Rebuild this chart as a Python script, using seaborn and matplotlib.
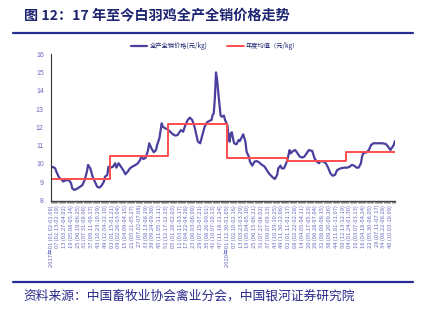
import matplotlib
matplotlib.use("Agg")
import matplotlib.pyplot as plt
from matplotlib.lines import Line2D
from matplotlib.ticker import MultipleLocator
import seaborn as sns
import pandas as pd

# ---------------- data ----------------
price_weeks = [0, 2, 4, 5, 7, 8, 10, 11, 13, 16, 18, 19, 21, 23, 26, 28, 30, 32, 33, 35,
               37, 39, 41, 43, 45, 47, 48, 50, 51, 53, 55, 57, 58, 60, 62, 64, 66, 68, 70, 72,
               75, 77, 79, 80, 82, 84, 86, 87, 89, 91, 93, 94, 96, 98, 99, 101, 103, 106, 108, 110,
               112, 115, 117, 119, 121, 123, 125, 127, 129, 130, 132, 134, 136, 138, 140, 142, 143, 144, 145, 146,
               147, 148, 150, 151, 153, 154, 156, 157, 158, 159, 160, 161, 162, 164, 166, 167, 169, 170, 172, 173,
               175, 176, 178, 180, 182, 184, 186, 189, 192, 194, 197, 198, 200, 201, 203, 204, 206, 208, 209, 211,
               212, 214, 216, 218, 220, 222, 224, 226, 228, 231, 233, 235, 237, 238, 241, 243, 245, 247, 249, 251,
               253, 256, 259, 262, 264, 266, 268, 270, 272, 274, 275, 276, 279, 281, 283, 285, 288, 293, 296, 298,
               300, 301, 303, 304]
price_values = [9.80, 9.84, 9.76, 9.58, 9.31, 9.22, 9.13, 9.04, 9.10, 9.13, 8.95, 8.67, 8.58, 8.64, 8.76, 8.85, 9.13, 9.58, 9.95, 9.76,
                9.31, 9.04, 8.76, 8.71, 8.82, 9.04, 9.31, 9.40, 9.85, 9.80, 9.85, 10.04, 9.80, 10.04, 9.85, 9.67, 9.44, 9.58, 9.76, 9.85,
                9.95, 10.04, 10.22, 10.40, 10.27, 10.35, 10.76, 11.13, 10.85, 10.64, 10.76, 11.04, 11.40, 12.22, 12.04, 11.95, 11.90, 11.73, 11.62, 11.55,
                11.58, 11.85, 11.76, 12.13, 12.40, 12.53, 12.40, 12.04, 11.49, 11.22, 11.13, 11.58, 12.04, 12.27, 12.35, 12.40, 12.67, 12.76, 13.60, 15.00,
                14.60, 13.90, 12.67, 12.58, 12.64, 12.40, 12.13, 11.58, 11.22, 11.67, 11.73, 11.40, 11.13, 11.07, 11.31, 11.25, 11.49, 11.62, 11.22, 10.67,
                10.40, 10.13, 9.91, 10.13, 10.16, 10.09, 9.98, 9.85, 9.55, 9.40, 9.22, 9.18, 9.40, 9.76, 9.91, 9.76, 9.76, 10.04, 10.22, 10.76,
                10.58, 10.71, 10.76, 10.58, 10.40, 10.35, 10.40, 10.58, 10.76, 10.71, 10.31, 10.13, 10.04, 10.16, 10.13, 10.04, 9.80, 9.49, 9.36, 9.40,
                9.67, 9.76, 9.80, 9.80, 9.85, 9.95, 9.91, 9.80, 9.80, 10.04, 10.40, 10.58, 10.64, 10.76, 11.04, 11.13, 11.13, 11.13, 11.09, 10.95,
                10.76, 10.85, 11.04, 11.25]

year_start_weeks = [0, 52, 104, 156, 209, 261, 304]
year_avg_values = [9.18, 10.45, 12.20, 10.31, 10.16, 10.64, 10.64]

tick_labels = [
    "2017年01 (01.02-01.08)", "07 (02.13-02.19)", "13 (03.27-04.02)", "19 (05.08-05.14)",
    "25 (06.19-06.25)", "31 (07.31-08.06)", "37 (09.11-09.17)", "43 (10.23-10.29)",
    "49 (12.04-12.10)", "03 (01.15-01.21)", "09 (02.26-03.04)", "15 (04.09-04.15)",
    "21 (05.21-05.27)", "27 (07.02-07.08)", "33 (08.13-08.19)", "39 (09.24-09.30)",
    "45 (11.05-11.11)", "51 (12.17-12.23)", "05 (01.28-02.03)", "11 (03.11-03.17)",
    "17 (04.22-04.28)", "23 (06.03-06.09)", "29 (07.15-07.21)", "35 (08.26-09.01)",
    "41 (10.07-10.13)", "47 (11.18-11.24)", "2020年01 (12.30-01.05)", "07 (02.10-02.16)",
    "13 (03.23-03.29)", "19 (05.04-05.10)", "25 (06.15-06.21)", "31 (07.27-08.02)",
    "37 (09.07-09.13)", "43 (10.19-10.25)", "49 (11.30-12.06)", "02 (01.11-01.17)",
    "08 (02.22-02.28)", "14 (04.05-04.11)", "20 (05.17-05.23)", "26 (06.28-07.04)",
    "32 (08.09-08.15)", "38 (09.20-09.26)", "44 (11.01-11.07)", "50 (12.13-12.19)",
    "04 (01.24-01.30)", "10 (03.07-03.13)", "16 (04.18-04.24)", "22 (05.30-06.05)",
    "28 (07.11-07.17)", "34 (08.22-08.28)", "40 (10.03-10.09)",
]
tick_weeks = list(range(0, 6 * len(tick_labels), 6))

series_names = ["全产全销价格(元/kg)", "年度均值（元/kg）"]

# ---------------- style ----------------
sns.set_theme(style="white")
plt.rcParams["font.family"] = ["Noto Sans CJK SC", "DejaVu Sans"]

BLUE = "#4a409e"
RED = "#ff4d4d"
TXT = "#6a6ac0"
NAVY = "#1d2470"

fig = plt.figure(figsize=(4.26, 3.22), dpi=100)
ax = fig.add_axes([0.119, 0.377, 0.808, 0.455])

df_price = pd.DataFrame({"week": price_weeks, "value": price_values})
df_avg = pd.DataFrame({"week": year_start_weeks, "value": year_avg_values})

sns.lineplot(data=df_price, x="week", y="value", ax=ax, color=BLUE, linewidth=1.6,
             label=series_names[0])
sns.lineplot(data=df_avg, x="week", y="value", ax=ax, color=RED, linewidth=1.4,
             drawstyle="steps-post", label=series_names[1])

ax.set_xlim(0, 304)
ax.set_ylim(8, 16)
ax.set_yticks(range(8, 17))
ax.set_xlabel("")
ax.set_ylabel("")
ax.set_xticks(tick_weeks)
ax.set_xticklabels(tick_labels, rotation=90, fontsize=4.2, color=TXT)
ax.xaxis.set_minor_locator(MultipleLocator(1))
ax.tick_params(axis="x", which="both", length=1.5, width=0.5, color="#555555", pad=1.5, bottom=True)
ax.tick_params(axis="y", length=0, pad=5, labelsize=5, labelcolor=TXT)
for lab in ax.get_yticklabels():
    lab.set_family(["Liberation Sans", "DejaVu Sans"])

for s in ["top", "right"]:
    ax.spines[s].set_visible(False)
ax.spines["left"].set_color("#333333")
ax.spines["left"].set_linewidth(0.8)
ax.spines["bottom"].set_color("#444444")
ax.spines["bottom"].set_linewidth(1.0)
ax.grid(False)

ax.legend_.remove()
handles, labels = ax.get_legend_handles_labels()
fig.legend(handles, labels, loc="center", bbox_to_anchor=(0.505, 0.858), ncol=2,
           frameon=False, fontsize=4.5, handlelength=2.6, columnspacing=3.2,
           handletextpad=0.4, labelcolor=NAVY)

# title, rules, source
fig.text(24 / 426, 1 - 15 / 322, "图 12：17 年至今白羽鸡全产全销价格走势", fontsize=10.2,
         fontweight="bold", color=NAVY, va="center", ha="left")
fig.add_artist(Line2D([13 / 426, 413 / 426], [1 - 33 / 322] * 2, color="#262b95", linewidth=1.6,
                      transform=fig.transFigure))
fig.add_artist(Line2D([13 / 426, 413 / 426], [1 - 282 / 322] * 2, color="#262b95", linewidth=1.6,
                      transform=fig.transFigure))
fig.text(23 / 426, 1 - 296 / 322, "资料来源：中国畜牧业协会禽业分会，中国银河证券研究院", fontsize=9.2,
         color="#2a2a8a", va="center", ha="left")

fig.savefig("out.png", dpi=100)
